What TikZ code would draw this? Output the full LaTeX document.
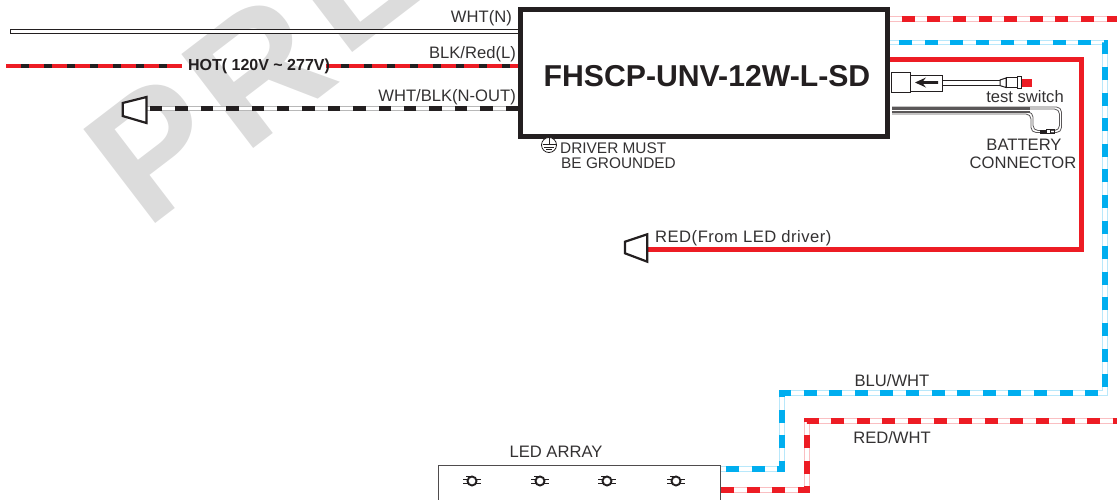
\documentclass[tikz,border=0pt]{standalone}
\usepackage{fontspec}
\setmainfont{Liberation Sans}
\definecolor{wred}{HTML}{ED1C24}
\definecolor{wblue}{HTML}{00AEEF}
\definecolor{ink}{HTML}{231F20}
\definecolor{txt}{HTML}{333132}
\definecolor{wm}{HTML}{DCDCDC}
\newfontfamily\spaced[LetterSpace=3]{Liberation Sans}
\tikzset{
  lbl/.style={inner sep=0pt,text=txt,font=\fontsize{16.6pt}{17pt}\selectfont},
  lblsm/.style={inner sep=0pt,text=txt,font=\fontsize{15.4pt}{16pt}\selectfont},
  lblsp/.style={inner sep=0pt,text=txt,font=\fontsize{16.6pt}{17pt}\selectfont\spaced},
  hotwire/.style={draw=ink,line width=4pt,postaction={draw=wred,line width=4.6pt,dash pattern=on 15pt off 8pt}},
  neutwire/.style={draw=black!28,line width=5pt,postaction={draw=white,line width=3.6pt},postaction={draw=ink,line width=4.6pt,dash pattern=on 12.5pt off 12.9pt}},
  redwhite/.style={draw=wred!28,line width=5.4pt,postaction={draw=white,line width=3.4pt},postaction={draw=wred,line width=5.4pt,dash pattern=on 13pt off 12.6pt,dash phase=#1}},
  redwhite/.default=0pt,
  bluewhite/.style={draw=wblue!28,line width=5.4pt,postaction={draw=white,line width=3.4pt},postaction={draw=wblue,line width=5.4pt,dash pattern=on 13pt off 12.6pt,dash phase=20.6pt}},
  plug/.style={draw=ink,line width=2.2pt,fill=white,line join=miter},
  ledbody/.style={draw=ink,line width=1.9pt,fill=white},
  ledpin/.style={draw=ink,line width=1pt},
  battwire/.style={draw=ink!75,line width=.8pt,rounded corners=5pt},
  swbox/.style={draw=ink,line width=1pt,fill=white},
}
\begin{document}
\begin{tikzpicture}[x=1pt,y=-1pt]
\useasboundingbox (0,0) rectangle (1117,499);
% watermark
\begin{scope}
\clip (0,0) rectangle (1117,499);
\node[anchor=base west,inner sep=0pt,rotate=37.4,text=wm,font=\fontsize{172pt}{172pt}\selectfont\bfseries] (mark) at (146,230.5) {P\kern9pt R\kern13pt\raise16pt\hbox{E}};
\end{scope}
% coordinates
\coordinate (wN) at (10,31);
\coordinate (hotA) at (6,66);
\coordinate (hotB) at (182,66);
\coordinate (hotC) at (326,66);
\coordinate (outEnd) at (146,108.5);
\coordinate (rt1) at (1117,18.8);
\coordinate (rt2a) at (1105,42.7);
\coordinate (rt2b) at (1105,393);
\coordinate (b1) at (782,393);
\coordinate (b2) at (782,469);
\coordinate (r1) at (1117,421);
\coordinate (r2) at (807,421);
\coordinate (r3) at (807,490);
\coordinate (cr) at (1081.5,59);
\coordinate (cb) at (1081.5,249);
% driver
\node[draw=ink,line width=5pt,fill=white,minimum width=367pt,minimum height=127pt,inner sep=0pt,font=\fontsize{30.2pt}{31pt}\selectfont\bfseries,text=ink] (driver) at (704,73) {\hspace*{6pt}\raisebox{-3pt}[21.6pt][0pt]{FHSCP-UNV-12W-L-SD}};
% LED array
\node[draw=ink!80,line width=1pt,minimum width=282pt,minimum height=60pt,inner sep=0pt,anchor=north west] (array) at (438,465) {};
% wires
\draw[draw=ink,line width=1pt,fill=white] (wN |- 0,29) rectangle (driver.west |- 0,33);
\path[hotwire] (hotA) -- (hotB);
\path[hotwire] (hotC) -- (driver.west |- hotC);
\path[neutwire] (driver.west |- outEnd) -- (outEnd);
\path[redwhite=13.9pt] (driver.east |- rt1) -- (rt1);
\path[bluewhite] (array.east |- b2) -- (b2) -- (b1) -- (rt2b) -- (rt2a) -- (driver.east |- rt2a);
\path[redwhite] (array.east |- r3) -- (r3) -- (r2) -- (r1);
\draw[wred,line width=5pt,line join=miter] (driver.east |- cr) -- (cr) -- (cb) -- (648,249);
% plugs
\draw[plug] (122.7,103) -- (146.5,97) -- (146.5,123) -- (122.7,116) -- cycle;
\draw[plug] (625,241.7) -- (647.3,234.3) -- (647.3,261.7) -- (625,253.3) -- cycle;
% test switch
\draw[swbox] (891,72) rectangle (910,92);
\draw[swbox] (910,75) rectangle (942,91);
\fill[ink] (915,82.5) -- (926,77.5) -- (923,81.2) -- (938,81.2) -- (938,83.8) -- (923,83.8) -- (926,87.5) -- cycle;
\draw[swbox] (942,80) rectangle (1000,85.6);
\draw[swbox] (1000,80) -- (1006,78) -- (1006,87.5) -- (1000,85.6) -- cycle;
\draw[swbox] (1006,77.5) rectangle (1017,87.5);
\draw[swbox] (1017,76.5) rectangle (1021.5,88.5);
\fill[wred] (1022,79) rectangle (1032,87);
% battery connector
\foreach \dy in {0,1.3,2.6,3.9,5.2} \draw[draw=ink!75,line width=.8pt] (892,107+\dy) -- (1030,107+\dy);
\draw[battwire] (892,107) -- (1061.5,107) -- (1061.5,132.5) -- (1050,132.5);
\draw[battwire] (892,109) -- (1059.5,109) -- (1059.5,130.5) -- (1050,130.5);
\draw[battwire] (892,112) -- (1033,112) -- (1033,130.5) -- (1042,130.5);
\draw[battwire] (892,114) -- (1031,114) -- (1031,132.5) -- (1042,132.5);
\fill[ink] (1040,129.5) rectangle (1046,133.5);
\draw[ink,line width=.8pt] (1046,129.5) rectangle (1050,133.5);
\draw[ink,line width=.8pt] (1050,129.5) rectangle (1054,133.5);
% LED symbols
\foreach \n/\x in {a/472,b/540,c/607,d/676}{
  \draw[ledpin] (\x-9,479) -- (\x+9,479) (\x-9,483) -- (\x+9,483);
  \draw[ledpin] (\x-6,476.5) -- (\x-2,476.5);
  \node[circle,ledbody,minimum size=9pt,inner sep=0pt] (led\n) at (\x,481) {};
}
% ground symbol
\node[circle,draw=ink,line width=.8pt,fill=white,minimum size=15pt,inner sep=0pt] (gnd) at (549,145) {};
\draw[ink,line width=.8pt] (549,138) -- (549,144) (542.5,144.5) -- (555.5,144.5) (544,147) -- (554,147) (546,149.5) -- (552,149.5);
% labels
\node[lbl,anchor=east] (t1) at (512,18) {WHT(N)};
\node[lbl,anchor=east] (t2) at (516,54) {BLK/Red(L)};
\node[lbl,anchor=east] (t3) at (516,97) {WHT/BLK(N-OUT)};
\node[inner sep=0pt,text=ink,anchor=center,font=\fontsize{16pt}{16pt}\selectfont\bfseries] (hot) at (259,66.5) {HOT( 120V \string~ 277V)};
\node[lbl,anchor=center] (t4) at (1025,96.5) {test switch};
\node[lbl,anchor=center] (t5) at (1024,145) {BATTERY};
\node[lbl,anchor=center] (t6) at (1023,162.5) {CONNECTOR};
\node[lblsm,anchor=west] (t7) at (560,148) {DRIVER MUST};
\node[lblsm,anchor=west] (t8) at (561,163.5) {BE GROUNDED};
\node[lblsp,anchor=west] (t9) at (655,238) {RED(From LED driver)};
\node[lbl,anchor=center] (t10) at (892,380.5) {BLU/WHT};
\node[lbl,anchor=center] (t11) at (892,437.5) {RED/WHT};
\node[lbl,anchor=center] (t12) at (556,451.5) {LED ARRAY};
\end{tikzpicture}
\end{document}
